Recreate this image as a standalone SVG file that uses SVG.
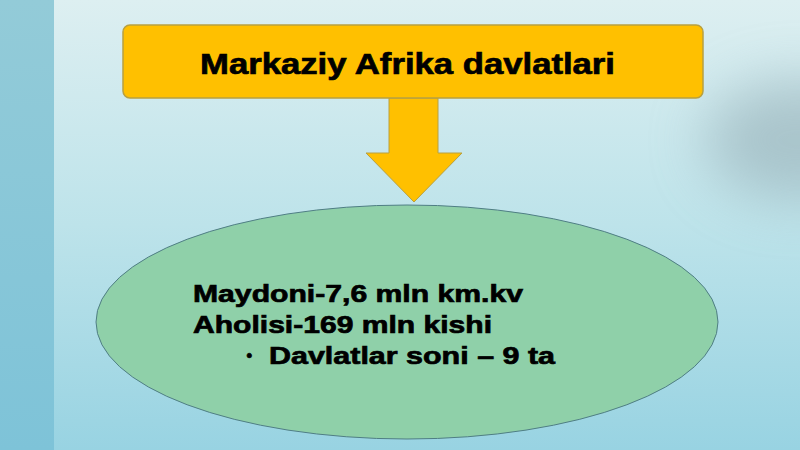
<svg xmlns="http://www.w3.org/2000/svg" width="800" height="450" viewBox="0 0 800 450">
  <defs>
    <linearGradient id="bg" x1="0" y1="0" x2="0" y2="1">
      <stop offset="0" stop-color="#DDEFF1"/>
      <stop offset="0.5" stop-color="#BDE3EA"/>
      <stop offset="1" stop-color="#98D3E2"/>
    </linearGradient>
    <linearGradient id="strip" x1="0" y1="0" x2="0" y2="1">
      <stop offset="0" stop-color="#93CBD8"/>
      <stop offset="1" stop-color="#7EC3D8"/>
    </linearGradient>
    <filter id="blur" x="-50%" y="-50%" width="200%" height="200%">
      <feGaussianBlur stdDeviation="28"/>
    </filter>
    <style>
      .t { font-family: "Liberation Sans", Arial, sans-serif; font-weight: bold; fill: #000000; stroke: #000000; stroke-width: 0.7; }
    </style>
  </defs>
  <rect x="0" y="0" width="800" height="450" fill="url(#bg)"/>
  <ellipse cx="800" cy="140" rx="95" ry="60" fill="#94ADB5" opacity="0.6" filter="url(#blur)"/>
  <rect x="0" y="0" width="54" height="450" fill="url(#strip)"/>

  <g id="connectors">
    <polygon points="389,98 438,98 438,153 462,153 414,202 366,153 389,153" fill="#FFC000" stroke="#B8A040" stroke-width="1"/>
  </g>

  <g id="node-title">
    <rect x="123" y="25" width="580" height="73" rx="7" ry="7" fill="#FFC000" stroke="#B8A040" stroke-width="1.5"/>
    <text class="t" x="200" y="73.5" font-size="30" textLength="415" lengthAdjust="spacingAndGlyphs">Markaziy Afrika davlatlari</text>
  </g>

  <g id="node-info">
    <ellipse cx="407" cy="322" rx="311" ry="117" fill="#8FD0A9" stroke="#4F7E84" stroke-width="1"/>
    <text class="t" x="193" y="301.5" font-size="24" textLength="330" lengthAdjust="spacingAndGlyphs">Maydoni-7,6 mln km.kv</text>
    <text class="t" x="193" y="332.5" font-size="24" textLength="299" lengthAdjust="spacingAndGlyphs">Aholisi-169 mln kishi</text>
    <text class="t" x="246.5" y="361" font-size="16" stroke-width="0.3">•</text>
    <text class="t" x="269" y="364" font-size="24" textLength="286" lengthAdjust="spacingAndGlyphs">Davlatlar soni – 9 ta</text>
  </g>
</svg>
